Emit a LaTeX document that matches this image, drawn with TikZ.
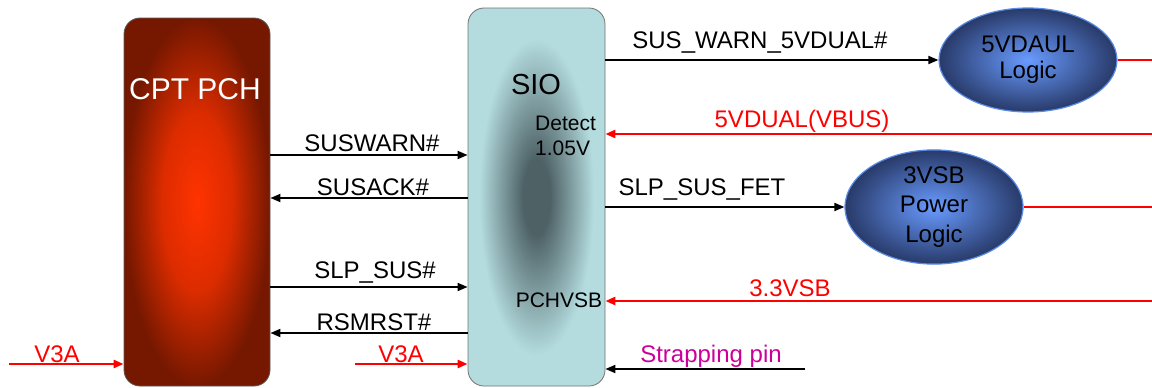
\documentclass[tikz,border=0pt]{standalone}
\usepackage{fontspec}
\setmainfont{Liberation Sans}
\usetikzlibrary{arrows.meta,shapes.geometric}
\definecolor{pchin}{RGB}{255,51,0}
\definecolor{pchmid}{RGB}{220,44,0}
\definecolor{pchout}{RGB}{118,24,0}
\definecolor{sioin}{RGB}{78,98,102}
\definecolor{sioout}{RGB}{180,220,223}
\definecolor{elin}{RGB}{105,155,255}
\definecolor{elout}{RGB}{40,58,105}
\definecolor{elborder}{RGB}{90,140,230}
\definecolor{sigred}{RGB}{255,0,0}
\definecolor{strap}{RGB}{204,0,153}
\pgfdeclareradialshading{pchshade}{\pgfpoint{0bp}{0bp}}{color(0bp)=(pchin); color(12bp)=(pchmid); color(25bp)=(pchout); color(50bp)=(pchout)}
\pgfdeclareradialshading{sioshade}{\pgfpoint{0bp}{0bp}}{color(0bp)=(sioin); color(5bp)=(sioin); color(21bp)=(sioout); color(50bp)=(sioout)}
\pgfdeclareradialshading{elshade}{\pgfpoint{0bp}{0bp}}{color(0bp)=(elin); color(25bp)=(elout); color(50bp)=(elout)}
\tikzset{
  pchbox/.style={rectangle, rounded corners=16pt, draw=black!65, line width=0.8pt, shading=pchshade, minimum width=146pt, minimum height=368pt, inner sep=0pt},
  siobox/.style={rectangle, rounded corners=16pt, draw=black!55, line width=0.8pt, shading=sioshade, minimum width=137pt, minimum height=378pt, inner sep=0pt},
  logicell/.style={ellipse, shading=elshade, draw=elborder, line width=1.2pt, minimum width=178pt, minimum height=104pt, inner sep=0pt, align=center, font=\fontsize{24}{26}\selectfont},
  lbl/.style={font=\fontsize{24}{28}\selectfont, inner sep=0pt, anchor=base},
  smalllbl/.style={font=\fontsize{21}{25}\selectfont, inner sep=0pt, anchor=base west},
  sig/.style={line width=1.8pt, draw=black},
  pwr/.style={line width=2.4pt, draw=sigred},
  tip/.style={-{Triangle[length=10pt,width=8pt]}}
}
\begin{document}
\begin{tikzpicture}[x=1pt,y=-1pt]
\useasboundingbox (0,0) rectangle (1152,388);
% blocks
\node[pchbox] (pch) at (197,202) {};
\node[siobox] (sio) at (536.5,197) {};
\node[logicell] (e1) at (1028,60) {5VDAUL\\Logic};
\node[logicell, font=\fontsize{24}{29.5}\selectfont] (e2) at (934,207) {3VSB\\Power\\Logic};
% block titles
\node[lbl, text=white, font=\fontsize{30}{34}\selectfont] (tpch) at (195,99) {CPT PCH};
\node[lbl, font=\fontsize{29}{34}\selectfont] (tsio) at (536,94) {SIO};
\node[smalllbl] (tdet) at (535,130) {Detect};
\node[smalllbl] (tv) at (535,155) {1.05V};
\node[lbl, font=\fontsize{21}{25}\selectfont] (tpchvsb) at (559,307) {PCHVSB};
% free ends
\coordinate (v3aL) at (9,364);
\coordinate (v3aM) at (355,364);
\coordinate (r1) at (1152,60);
\coordinate (r2) at (1152,134);
\coordinate (r3) at (1152,207);
\coordinate (r4) at (1152,301);
\coordinate (sp) at (805,369);
% PCH <-> SIO signals
\draw[sig,tip] (pch.east |- 0,155) -- (sio.west |- 0,155);
\draw[sig,tip] (sio.west |- 0,198) -- (pch.east |- 0,198);
\draw[sig,tip] (pch.east |- 0,287) -- (sio.west |- 0,287);
\draw[sig,tip] (sio.west |- 0,333) -- (pch.east |- 0,333);
\node[lbl] (lsw) at (372,151) {SUSWARN\#};
\node[lbl] (lsa) at (373,195) {SUSACK\#};
\node[lbl] (lss) at (375,278) {SLP\_SUS\#};
\node[lbl] (lrs) at (374,330) {RSMRST\#};
% V3A
\draw[pwr,tip] (v3aL) -- (pch.west |- v3aL);
\draw[pwr,tip] (v3aM) -- (sio.west |- v3aM);
\node[lbl, text=sigred] (lv1) at (57,362) {V3A};
\node[lbl, text=sigred] (lv2) at (401,362) {V3A};
% right side
\draw[sig,tip] (sio.east |- e1.west) -- (e1.west);
\node[lbl] (lswarn) at (760,48) {SUS\_WARN\_5VDUAL\#};
\draw[pwr] (e1.east) -- (r1);
\draw[pwr,tip] (r2) -- (sio.east |- r2);
\node[lbl, text=sigred] (l5v) at (802,127) {5VDUAL(VBUS)};
\draw[sig,tip] (sio.east |- e2.west) -- (e2.west);
\node[lbl] (lfet) at (702,195) {SLP\_SUS\_FET};
\draw[pwr] (e2.east) -- (r3);
\draw[pwr,tip] (r4) -- (sio.east |- r4);
\node[lbl, text=sigred] (l33) at (790,296) {3.3VSB};
\draw[sig,tip] (sp) -- (sio.east |- sp);
\node[lbl, text=strap] (lsp) at (711,362) {Strapping pin};
\end{tikzpicture}
\end{document}
